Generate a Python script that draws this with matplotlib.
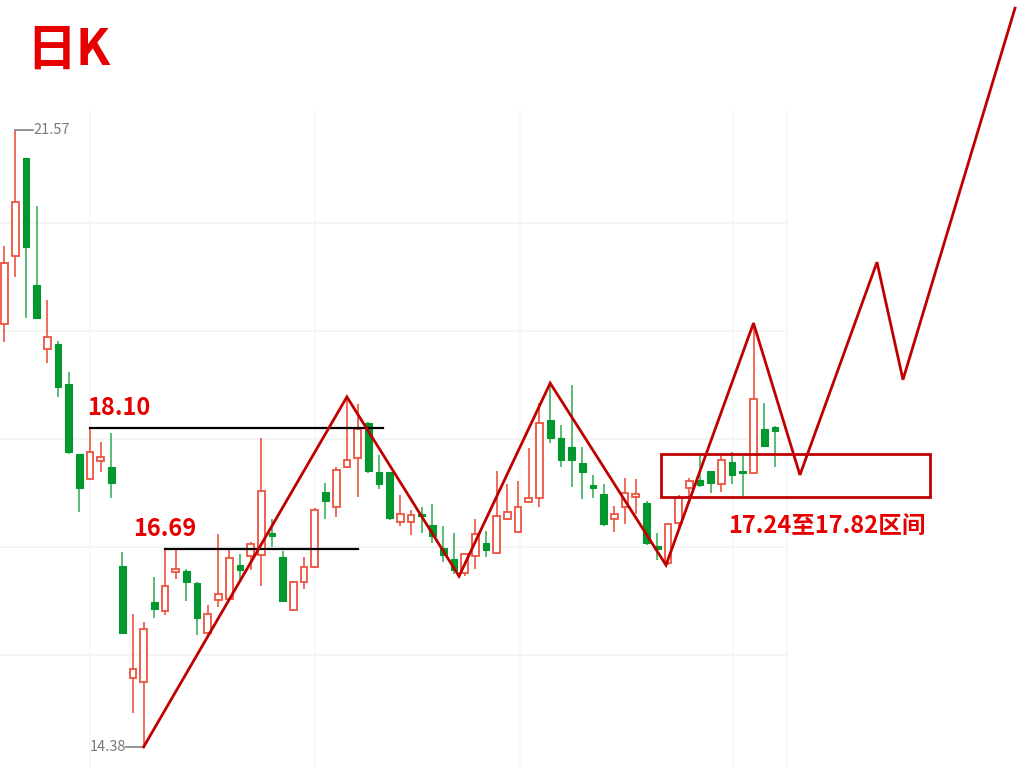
import matplotlib
matplotlib.use("Agg")
import matplotlib.pyplot as plt
from matplotlib.patches import Rectangle

plt.rcParams['font.family'] = ['Noto Sans CJK SC', 'DejaVu Sans']

# ---- candle data (open, high, low, close) ----
opens = [19.31, 20.10, 21.24, 19.76, 19.02, 19.08, 18.61, 17.79, 17.50, 17.71,
         17.64, 16.49, 15.18, 15.14, 16.07, 15.97, 16.42, 16.43, 16.29, 15.71,
         16.09, 16.10, 16.50, 16.61, 16.62, 16.86, 16.59, 15.98, 16.30, 16.48,
         17.35, 17.18, 17.64, 17.75, 18.16, 17.58, 17.58, 17.00, 17.00, 17.08,
         16.97, 16.70, 16.57, 16.41, 16.61, 16.76, 16.64, 17.04, 16.89, 17.24,
         17.28, 18.19, 17.98, 17.88, 17.69, 17.41, 17.33, 17.04, 17.18, 17.29,
         17.22, 16.70, 16.52, 16.99, 17.40, 17.49, 17.60, 17.44, 17.70, 17.58,
         17.57, 18.09, 18.11]
highs = [20.22, 21.57, 21.24, 20.68, 19.59, 19.11, 18.75, 17.79, 18.10, 17.93,
         18.04, 16.65, 15.93, 15.84, 16.36, 16.69, 16.69, 16.45, 16.30, 16.03,
         16.86, 16.69, 16.63, 16.77, 17.98, 17.04, 16.66, 16.31, 16.59, 17.17,
         17.46, 17.64, 18.46, 18.38, 18.17, 17.78, 17.58, 17.32, 17.14, 17.18,
         17.21, 16.96, 16.87, 16.63, 17.04, 16.90, 17.60, 17.44, 17.48, 17.86,
         18.39, 18.62, 18.13, 18.60, 17.88, 17.55, 17.44, 17.19, 17.52, 17.50,
         17.25, 16.87, 16.98, 17.32, 17.51, 17.78, 17.60, 17.78, 17.82, 17.77,
         19.32, 18.39, 18.12]
lows = [19.10, 19.86, 19.38, 19.38, 18.85, 18.46, 17.79, 17.12, 17.50, 17.59,
        17.28, 15.71, 14.78, 14.38, 15.88, 15.92, 16.34, 16.08, 15.69, 15.69,
        16.01, 16.10, 16.34, 16.44, 16.26, 16.71, 16.08, 15.97, 16.22, 16.47,
        17.04, 17.06, 17.63, 17.29, 17.57, 17.39, 17.03, 16.96, 16.85, 16.87,
        16.76, 16.54, 16.40, 16.37, 16.45, 16.59, 16.63, 17.03, 16.87, 17.24,
        17.18, 17.92, 17.64, 17.41, 17.27, 17.28, 16.96, 16.89, 16.98, 17.10,
        16.73, 16.56, 16.50, 16.91, 17.29, 17.41, 17.34, 17.35, 17.44, 17.29,
        17.56, 17.89, 17.64]
closes = [20.02, 20.73, 20.21, 19.38, 19.16, 18.58, 17.82, 17.40, 17.82, 17.76,
          17.46, 15.71, 15.29, 15.76, 15.99, 16.26, 16.43, 16.30, 15.88, 15.93,
          16.16, 16.58, 16.44, 16.75, 17.36, 16.84, 16.08, 16.30, 16.48, 17.14,
          17.25, 17.61, 17.72, 18.09, 17.60, 17.44, 17.05, 17.10, 17.08, 17.07,
          16.84, 16.62, 16.44, 16.63, 16.86, 16.68, 17.07, 17.12, 17.18, 17.28,
          18.16, 17.98, 17.72, 17.72, 17.58, 17.40, 16.98, 17.10, 17.34, 17.33,
          16.76, 16.69, 16.98, 17.28, 17.48, 17.43, 17.46, 17.72, 17.55, 17.57,
          18.44, 17.89, 18.06]

# ---- annotation data ----
zig_x = [13, 32, 42.48, 51, 61.82, 70, 74.34, 81.54, 83.97, 94.44]
zig_y = [14.38, 18.46, 16.37, 18.62, 16.50, 19.32, 17.55, 20.03, 18.66, 22.99]
level_hi = 18.10
level_hi_span = (8.0, 35.4)
level_lo = 16.69
level_lo_span = (15.0, 33.0)
zone_low, zone_high = 17.29, 17.79
zone_span = (61.36, 86.5)
zone_label = "17.24至17.82区间"
max_price, min_price = 21.57, 14.38
max_idx, min_idx = 1, 13
grid_prices = [20.49, 19.23, 17.97, 16.71, 15.45]
grid_idx = [8.0, 29.0, 48.2, 68.1, 73.1]
title = "日K"

RED = "#EE5340"
GREEN_BODY = "#03972F"
GREEN_WICK = "#3DB35C"
LINE_RED = "#C00000"
TEXT_RED = "#E60000"

fig = plt.figure(figsize=(10.24, 7.68), dpi=100)
ax = fig.add_axes([0, 0, 1, 1])
ax.set_xlim(-0.42, 95.28)
ax.set_ylim(14.135, 23.085)
ax.axis('off')

# grid
for gp in grid_prices:
    ax.plot([-0.42, grid_idx[-1]], [gp, gp], color="#F3F3F3", lw=1.2, zorder=0)
for gx in grid_idx:
    ax.plot([gx, gx], [14.135, 21.8], color="#F7F7F7", lw=1.2, zorder=0)

# candles
bw = 0.62
for i, (o, h, l, c) in enumerate(zip(opens, highs, lows, closes)):
    up = c >= o
    if up:
        ax.plot([i, i], [l, h], color=RED, lw=1.2, zorder=2, solid_capstyle='butt')
        ax.add_patch(Rectangle((i - bw / 2, o), bw, max(c - o, 0.03),
                               facecolor="white", edgecolor=RED, lw=1.3, zorder=3))
    else:
        ax.plot([i, i], [l, h], color=GREEN_WICK, lw=1.2, zorder=2, solid_capstyle='butt')
        ax.add_patch(Rectangle((i - bw / 2, c), bw, max(o - c, 0.03),
                               facecolor=GREEN_BODY, edgecolor=GREEN_BODY, lw=0.8, zorder=3))

# max / min labels
ax.plot([max_idx, max_idx + 1.65], [max_price, max_price], color="#808080", lw=1.2, zorder=4)
ax.text(max_idx + 1.7, max_price, f"{max_price:.2f}", color="#7A7A7A", fontsize=10.5,
        va='center', ha='left', zorder=4)
ax.plot([min_idx - 1.6, min_idx], [min_price, min_price], color="#808080", lw=1.2, zorder=4)
ax.text(min_idx - 1.65, min_price, f"{min_price:.2f}", color="#7A7A7A", fontsize=10.5,
        va='center', ha='right', zorder=4)

# support / resistance lines
ax.plot(level_hi_span, [level_hi, level_hi], color="black", lw=1.6, zorder=5)
ax.plot(level_lo_span, [level_lo, level_lo], color="black", lw=1.6, zorder=5)
ax.text(7.7, 18.25, f"{level_hi:.2f}", color=TEXT_RED, fontsize=17, fontweight='bold',
        ha='left', va='baseline', zorder=6)
ax.text(12.0, 16.84, f"{level_lo:.2f}", color=TEXT_RED, fontsize=17, fontweight='bold',
        ha='left', va='baseline', zorder=6)

# zigzag
ax.plot(zig_x, zig_y, color=LINE_RED, lw=2.0, zorder=6, solid_joinstyle='miter')

# zone box
ax.add_patch(Rectangle((zone_span[0], zone_low), zone_span[1] - zone_span[0],
                       zone_high - zone_low, facecolor='none', edgecolor=LINE_RED,
                       lw=2.0, zorder=6))
ax.text(67.6, 16.87, zone_label, color=TEXT_RED, fontsize=17, fontweight='bold',
        ha='left', va='baseline', zorder=6)

fig.text(0.026, 0.916, title, color=TEXT_RED, fontsize=36, fontweight='bold',
         ha='left', va='baseline')

fig.savefig("out.png", dpi=100)
